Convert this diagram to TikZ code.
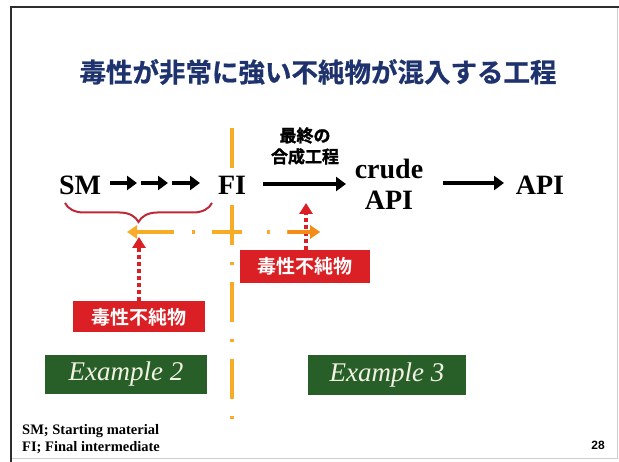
\documentclass[tikz,border=0pt]{standalone}
\usepackage{fontspec}
\setmainfont{Liberation Serif}
\setsansfont{Liberation Sans}
\newfontfamily\cjk{Noto Sans CJK JP Bold}
\newfontfamily\cjkh{Noto Sans CJK JP Bold}[FakeBold=1.6]
\newfontfamily\cjkt{Noto Sans CJK JP Bold}[FakeBold=0.8]
\usetikzlibrary{arrows.meta,decorations.pathreplacing}
\definecolor{navy}{RGB}{30,50,110}
\definecolor{impred}{RGB}{218,32,36}
\definecolor{bracered}{RGB}{190,40,55}
\definecolor{exgreen}{RGB}{40,95,40}
\definecolor{exwhite}{RGB}{242,242,228}
\definecolor{lineorange}{RGB}{246,172,38}
\definecolor{darkorange}{RGB}{244,140,24}
\definecolor{framegray}{RGB}{45,45,45}
\definecolor{lightframe}{RGB}{205,205,205}
\begin{document}
\begin{tikzpicture}[x=1pt,y=-1pt,
  txt/.style={inner sep=0pt},
  chem/.style={txt,font=\bfseries\fontsize{28}{31}\selectfont},
  blk/.style={line width=4pt,-{Triangle[length=10pt,width=14pt]}},
  orangeline/.style={lineorange,line width=3.5pt},
  reddot/.style={impred,line width=4pt,dash pattern=on 4pt off 3pt,-{Triangle[length=11pt,width=13pt]}},
  redbox/.style={fill=impred,text=white,minimum width=132pt,minimum height=31pt,inner sep=0pt,font=\cjk\fontsize{19}{19}\selectfont},
  greenbox/.style={fill=exgreen,text=exwhite,minimum width=160pt,minimum height=39pt,inner sep=0pt,font=\itshape\fontsize{27}{27}\selectfont}
]
\useasboundingbox (0,0) rectangle (619,462);
\fill[white] (0,0) rectangle (619,462);
% frame
\draw[lightframe,line width=1pt] (617,7) -- (617,459) -- (11,459);
\draw[framegray,line width=2.5pt] (11,462) -- (11,7) -- (619,7);

% title
\node[txt,font=\cjkt\fontsize{26.5}{30}\selectfont,text=navy] (title) at (318,72) {毒性が非常に強い不純物が混入する工程};

% vertical dash-dot divider
\coordinate (vtop) at (232,128);
\coordinate (vbot) at (232,421);
\draw[orangeline,dash pattern=on 40pt off 17pt on 3pt off 17pt] (vtop) -- (vbot);

% main chain
\node[chem] (sm) at (80,185) {SM};
\node[chem,fill=white,inner sep=2pt] (fi) at (232,185) {FI};
\coordinate (a1s) at (110,183); \coordinate (a1e) at (137,183);
\coordinate (a2s) at (141,183); \coordinate (a2e) at (168,183);
\coordinate (a3s) at (172,183); \coordinate (a3e) at (200,183);
\draw[blk] (a1s) -- (a1e);
\draw[blk] (a2s) -- (a2e);
\draw[blk] (a3s) -- (a3e);

\node[chem,align=center,font=\bfseries\fontsize{28}{31}\selectfont] (crude) at (389,184) {crude\\API};
\node[chem] (api) at (540,185) {API};
\coordinate (b1s) at (263,184); \coordinate (b1e) at (346,184);
\draw[blk] (b1s) -- (b1e);
\coordinate (b2s) at (443,183); \coordinate (b2e) at (504,183);
\draw[blk] (b2s) -- (b2e);

\node[txt,align=center,font=\cjkh\fontsize{17}{21}\selectfont] (step) at (305,146) {最終の\\合成工程};

% brace under SM -> FI
\coordinate (br1) at (65,203);
\coordinate (br2) at (212,203);
\draw[bracered,line width=2pt,decorate,decoration={brace,mirror,amplitude=19pt}] (br1) -- (br2);

% impurity boxes
\node[redbox] (imp1) at (139,317) {毒性不純物};
\node[redbox,minimum width=130pt,minimum height=33pt] (imp2) at (305,266.5) {毒性不純物};

% red dotted arrows
\coordinate (t1) at (139,237);
\coordinate (t2) at (306,203);
\draw[reddot] (imp1.north) -- (t1);
\draw[reddot] (imp2.north -| t2) -- (t2);

% horizontal orange dash-dot double arrow
\coordinate (hl) at (127,232);
\coordinate (hr) at (320,232);
\coordinate (hd) at (288,232);
\draw[orangeline,{Triangle[length=10pt,width=13pt]}-{Triangle[length=10pt,width=13pt]},
  dash pattern=on 38pt off 18pt on 3pt off 17pt on 30pt off 25pt on 3pt off 17pt on 40pt] (hl) -- (hr);
\draw[darkorange,line width=3.5pt,-{Triangle[length=10pt,width=13pt]}] (hd) -- (hr);

% example boxes
\node[greenbox,minimum width=162pt] (ex2) at (126,374.5) {Example 2};
\node[greenbox,minimum width=158pt,minimum height=40pt] (ex3) at (387,375) {Example 3};

% footer
\node[txt,anchor=base west,font=\bfseries\fontsize{14.5}{17}\selectfont] (f1) at (22,435) {SM; Starting material};
\node[txt,anchor=base west,font=\bfseries\fontsize{14.5}{17}\selectfont] (f2) at (22,452) {FI; Final intermediate};
\node[txt,font=\sffamily\bfseries\fontsize{12}{12}\selectfont] (pg) at (598,445) {28};
\end{tikzpicture}
\end{document}
